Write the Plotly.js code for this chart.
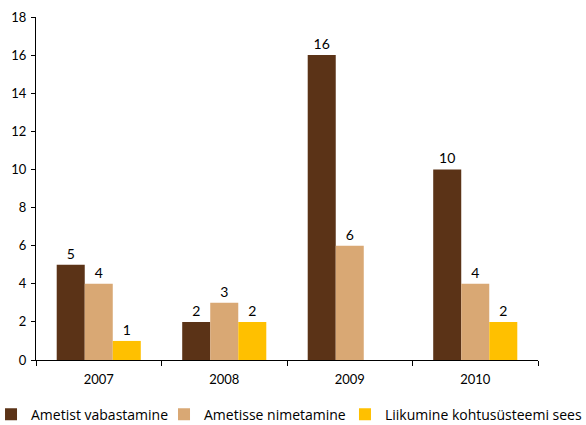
<!DOCTYPE html>
<html>
<head>
<meta charset="utf-8">
<script src="https://cdn.plot.ly/plotly-3.0.1.min.js"></script>
<style>html,body{margin:0;padding:0;background:#fff;}#chart{width:586px;height:425px;}</style>
</head>
<body>
<div id="chart"></div>
<script>
const years = ["2007", "2008", "2009", "2010"];
const seriesNames = ["Ametist vabastamine", "Ametisse nimetamine", "Liikumine kohtusüsteemi sees"];
const vabastamine = [5, 2, 16, 10];
const nimetamine = [4, 3, 6, 4];
const liikumine = [1, 2, null, 2];
const colors = ["#5B3317", "#D9A874", "#FFC000"];
const yTicks = [0, 2, 4, 6, 8, 10, 12, 14, 16, 18];

const legendIds = ["legend", "legend2", "legend3"];
const legendX = [-0.0896, 0.255, 0.6155];

const allValues = [vabastamine, nimetamine, liikumine];
const traces = allValues.map((vals, i) => ({
  type: "bar",
  name: seriesNames[i],
  legend: legendIds[i],
  x: years,
  y: vals,
  marker: { color: colors[i], line: { width: 0 } },
  text: vals.map(v => v === null ? "" : String(v)),
  textposition: "outside",
  textfont: { size: 14, color: "#000", family: "Lato, 'Open Sans', sans-serif" },
  cliponaxis: false,
  hoverinfo: "none"
}));

function legendAt(x) {
  return {
    orientation: "h",
    x: x,
    xanchor: "left",
    y: -0.206,
    yanchor: "bottom",
    font: { size: 14, color: "#000", family: "'Open Sans', sans-serif" },
    itemwidth: 30,
    tracegroupgap: 0,
    bgcolor: "rgba(0,0,0,0)"
  };
}

const layout = {
  width: 586,
  height: 425,
  margin: { l: 36, r: 48, t: 17, b: 65, autoexpand: false },
  paper_bgcolor: "#fff",
  plot_bgcolor: "#fff",
  font: { family: "Lato, 'Open Sans', sans-serif", size: 13, color: "#000" },
  barmode: "group",
  bargap: 0.33,
  bargroupgap: 0,
  showlegend: true,
  legend: legendAt(legendX[0]),
  legend2: legendAt(legendX[1]),
  legend3: legendAt(legendX[2]),
  xaxis: {
    type: "category",
    showline: true,
    linecolor: "#000",
    linewidth: 1,
    ticks: "outside",
    tickson: "boundaries",
    ticklen: 5,
    tickcolor: "#000",
    showgrid: false,
    zeroline: false,
    ticklabelstandoff: 7,
    tickfont: { size: 13 }
  },
  yaxis: {
    range: [0, 18],
    tickvals: yTicks,
    ticktext: yTicks.map(String),
    showline: true,
    linecolor: "#000",
    linewidth: 1,
    ticks: "outside",
    ticklen: 4,
    tickcolor: "#000",
    showgrid: false,
    zeroline: false,
    ticklabelstandoff: 2,
    tickfont: { size: 13 }
  }
};

Plotly.newPlot("chart", traces, layout, { staticPlot: true, displayModeBar: false });
</script>
</body>
</html>
